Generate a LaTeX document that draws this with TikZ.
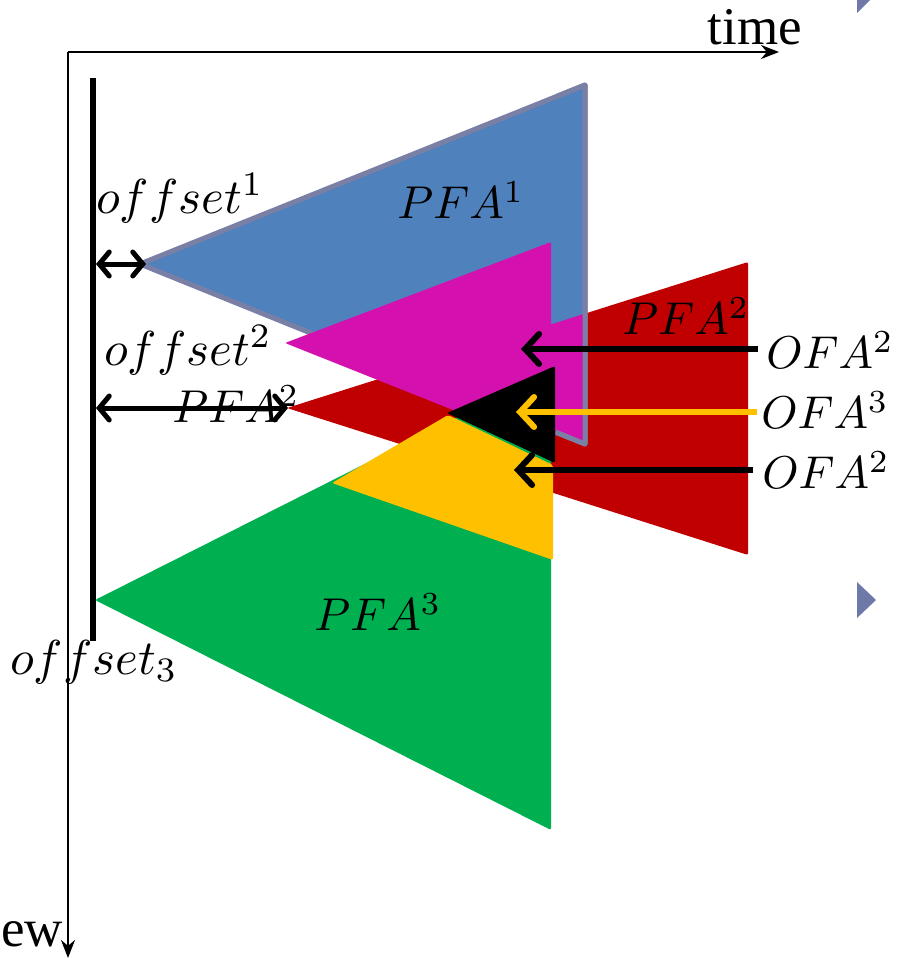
\documentclass[tikz,border=0pt]{standalone}
\usepackage{fontspec}
\newfontfamily\timesf{Liberation Serif}
\usetikzlibrary{arrows.meta}
\definecolor{pblue}{HTML}{4F81BD}
\definecolor{pedge}{HTML}{7A7FA6}
\definecolor{pmag}{HTML}{D411AE}
\definecolor{pred}{HTML}{C00000}
\definecolor{pyel}{HTML}{FFC000}
\definecolor{pgreen}{HTML}{00B050}
\definecolor{pbullet}{HTML}{6E79AA}
\newcommand{\mylabmath}[1]{\scalebox{4.6}{$#1$}}
\newcommand{\myoffmath}[1]{\scalebox{4.9}{$#1$}}
\tikzset{
  lab/.style={inner sep=0pt},
  axis/.style={line width=2.2pt, -{Stealth[length=18pt,width=14pt]}},
  offarrow/.style={line width=5pt, {Straight Barb[length=10pt,width=24pt,line cap=round]}-{Straight Barb[length=10pt,width=24pt,line cap=round]}},
  ofaarrow/.style={line width=6pt, -{Straight Barb[length=14pt,width=30pt,line cap=round]}},
  tri/.style={rounded corners=2pt}
}
\begin{document}
\begin{tikzpicture}[x=1pt,y=-1pt]
\useasboundingbox (0,0) rectangle (898,958);
% bullets
\fill[pbullet] (857,-23) -- (875,-5) -- (857,13) -- cycle;
\fill[pbullet] (857,582) -- (876,600) -- (857,618) -- cycle;
% axes
\coordinate (origin) at (68,52);
\coordinate (timeend) at (779,52);
\coordinate (viewend) at (68,958);
\draw[axis] (origin) -- (timeend);
\draw[axis] (origin) -- (viewend);
\node[inner sep=0pt, font=\timesf\fontsize{53}{58}\selectfont] (time) at (755,27) {time};
\node[inner sep=0pt, anchor=east, font=\timesf\fontsize{53}{58}\selectfont] (view) at (63,934) {ew};
% bar
\coordinate (bartop) at (93,78);
\coordinate (barbot) at (93,641);
\draw[line width=6pt] (bartop) -- (barbot);
% triangles
\fill[pred,tri] (287,408) -- (748,262) -- (748,555) -- cycle;
\filldraw[fill=pblue, draw=pedge, line width=5pt, line join=round] (140,264) -- (585,85) -- (585,444) -- cycle;
\fill[pmag,tri] (285,343) -- (551,242) -- (551,449) -- cycle;
\begin{scope}
  \clip (551,0) rectangle (600,958);
  \clip (140,264) -- (585,85) -- (585,444) -- cycle;
  \fill[pmag] (287,408) -- (748,262) -- (748,555) -- cycle;
\end{scope}
\fill[pgreen,tri] (95,600) -- (551,370) -- (551,830) -- cycle;
\fill[pyel,tri] (332,483) -- (448,415) -- (553,465) -- (553,560) -- cycle;
\fill[black,tri] (447,413) -- (555,366) -- (555,463) -- cycle;
\begin{scope}
  \clip (556,0) rectangle (600,958);
  \draw[pedge, line width=5pt, line join=round] (140,264) -- (585,85) -- (585,444) -- cycle;
\end{scope}
% labels
\node[lab] (off1) at (180,198) {\myoffmath{offset^1}};
\node[lab] (pfa1) at (461,200) {\mylabmath{PFA^1}};
\node[lab] (off2) at (188,350) {\myoffmath{offset^2}};
\node[lab] (pfa2l) at (236,404) {\mylabmath{PFA^2}};
\node[lab] (pfa2r) at (686,316) {\mylabmath{PFA^2}};
\node[lab] (ofa2a) at (830,350) {\mylabmath{OFA^2}};
\node[lab] (ofa3) at (825,410) {\mylabmath{OFA^3}};
\node[lab] (ofa2b) at (826,470) {\mylabmath{OFA^2}};
\node[lab] (pfa3) at (378,612) {\mylabmath{PFA^3}};
\node[lab] (off3) at (94,662) {\myoffmath{offset_3}};
% offset arrows
\coordinate (o1s) at (96,264);
\coordinate (o1e) at (146,264);
\coordinate (o2s) at (96,408);
\coordinate (o2e) at (288,408);
\draw[offarrow] (o1s) -- (o1e);
\draw[offarrow] (o2s) -- (o2e);
% OFA arrows
\coordinate (a1s) at (758,349);
\coordinate (a1e) at (521,349);
\coordinate (a2s) at (757,412);
\coordinate (a2e) at (516,412);
\coordinate (a3s) at (753,470);
\coordinate (a3e) at (514,470);
\draw[ofaarrow] (a1s) -- (a1e);
\draw[ofaarrow, draw=pyel] (a2s) -- (a2e);
\draw[ofaarrow] (a3s) -- (a3e);
\end{tikzpicture}
\end{document}
